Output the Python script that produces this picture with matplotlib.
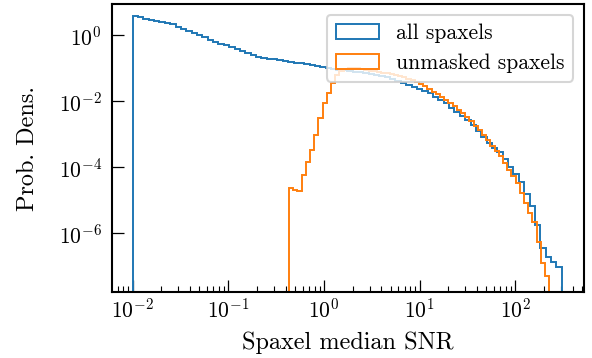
import numpy as np
import matplotlib
matplotlib.use('Agg')
import matplotlib.pyplot as plt
from matplotlib.ticker import NullLocator

plt.rcParams['font.family'] = 'serif'
plt.rcParams['font.serif'] = ['cmr10']
plt.rcParams['mathtext.fontset'] = 'cm'
plt.rcParams['axes.formatter.use_mathtext'] = True

# log10 of bin edges (start, stop) and log10 prob. density per bin
all_edges = (-2.0, 2.487)
all_logdens = [0.60, 0.55, 0.51, 0.47, 0.44, 0.42, 0.38, 0.33, 0.25, 0.19,
               0.13, 0.07, 0.01, -0.06, -0.13, -0.21, -0.26, -0.30, -0.36, -0.42,
               -0.48, -0.54, -0.60, -0.66, -0.69, -0.71, -0.73, -0.76, -0.78, -0.81,
               -0.83, -0.85, -0.88, -0.90, -0.92, -0.95, -0.98, -1.01, -1.04, -1.06,
               -1.08, -1.10, -1.12, -1.15, -1.18, -1.21, -1.24, -1.27, -1.33, -1.39,
               -1.45, -1.51, -1.58, -1.64, -1.70, -1.76, -1.86, -1.95, -2.06, -2.19,
               -2.32, -2.44, -2.57, -2.72, -2.90, -3.08, -3.25, -3.40, -3.53, -3.74,
               -3.98, -4.20, -4.46, -4.80, -5.18, -5.75, -6.45, -6.72, -6.86, -7.02]

unm_edges = (-0.365, 2.355)
unm_logdens = [-4.64, -4.70, -4.72, -4.24, -3.84, -3.47, -3.03, -2.52, -2.04, -1.74,
               -1.43, -1.20, -1.08, -1.01, -0.98, -0.98, -1.00, -1.02, -1.05, -1.07,
               -1.09, -1.11, -1.13, -1.15, -1.17, -1.19, -1.23, -1.27, -1.31, -1.36,
               -1.42, -1.47, -1.54, -1.63, -1.71, -1.79, -1.87, -1.95, -2.04, -2.14,
               -2.25, -2.36, -2.48, -2.60, -2.74, -2.88, -3.02, -3.18, -3.34, -3.50,
               -3.67, -3.88, -4.07, -4.25, -4.48, -4.78, -5.08, -5.38, -5.66, -6.25,
               -6.90, -7.30]

labels = ['all spaxels', 'unmasked spaxels']
yticks = [1e0, 1e-2, 1e-4, 1e-6]


def draw_hist(ax, edges_log, logdens, label, color):
    edges = np.logspace(edges_log[0], edges_log[1], len(logdens) + 1)
    centers = np.sqrt(edges[:-1] * edges[1:])
    ax.hist(centers, bins=edges, weights=10 ** np.array(logdens),
            histtype='step', log=True, color=color, lw=1.4, label=label)


fig = plt.figure(figsize=(5.92, 3.58), dpi=100)
ax = fig.add_axes([0.1885, 0.184, 0.7975, 0.805])

draw_hist(ax, all_edges, all_logdens, labels[0], '#1f77b4')
draw_hist(ax, unm_edges, unm_logdens, labels[1], '#ff7f0e')

ax.set_xscale('log')
ax.set_yscale('log')
ax.set_xlim(10 ** -2.22, 10 ** 2.717)
ax.set_ylim(10 ** -7.785, 10 ** 0.953)
ax.set_yticks(yticks)
ax.yaxis.set_minor_locator(NullLocator())

for s in ax.spines.values():
    s.set_linewidth(1.5)
ax.tick_params(which='both', direction='in', top=False, right=False, labelsize=15.5)
ax.tick_params(which='major', length=8.5, width=0.9)
ax.tick_params(which='minor', length=4, width=0.8)
ax.tick_params(axis='x', pad=4)
ax.tick_params(axis='y', pad=7)

ax.set_xlabel('Spaxel median SNR', fontsize=17.5, labelpad=7)
ax.set_ylabel('Prob. Dens.', fontsize=17.5, labelpad=14)

leg = ax.legend(loc='upper right', fontsize=15.5)
leg.get_frame().set_linewidth(1.5)

plt.savefig('out.png', dpi=100)
